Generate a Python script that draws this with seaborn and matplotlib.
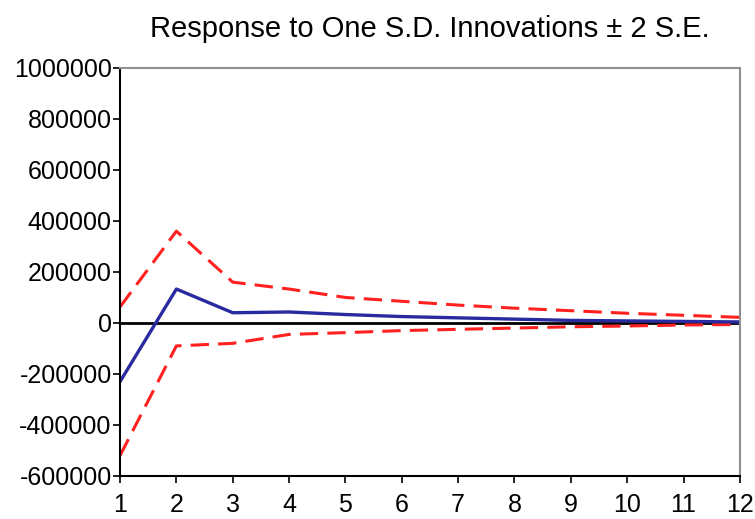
import matplotlib
matplotlib.use("Agg")
import matplotlib.pyplot as plt
from matplotlib.ticker import FuncFormatter
import pandas as pd
import seaborn as sns

periods = list(range(1, 13))
response = [-230000, 133000, 40000, 43000, 33000, 25000, 20000, 15000, 10000, 8000, 6000, 4000]
upper = [63000, 360000, 160000, 133000, 100000, 85000, 70000, 58000, 48000, 38000, 30000, 22000]
lower = [-520000, -90000, -80000, -45000, -38000, -30000, -25000, -20000, -15000, -12000, -8000, -6000]

df = pd.DataFrame({"period": periods, "response": response, "upper": upper, "lower": lower})

sns.set_theme(style="white")
plt.rcParams['font.family'] = ['Liberation Sans', 'DejaVu Sans']
plt.rcParams['text.color'] = 'black'
plt.rcParams['xtick.color'] = 'black'
plt.rcParams['ytick.color'] = 'black'

fig = plt.figure(figsize=(7.55, 5.19), dpi=100)
ax = fig.add_axes([0.159, 0.083, 0.821, 0.786])

ax.axhline(0, color="black", lw=2, zorder=1)
sns.lineplot(data=df, x="period", y="upper", ax=ax, color="#ff2020", lw=2.2)
sns.lineplot(data=df, x="period", y="lower", ax=ax, color="#ff2020", lw=2.2)
sns.lineplot(data=df, x="period", y="response", ax=ax, color="#2a2aa0", lw=2.4)
for line in ax.lines[1:3]:
    line.set_dashes([6, 3])

ax.set_xlim(1, 12)
ax.set_ylim(-600000, 1000000)
ax.set_xticks(periods)
ax.set_yticks(range(-600000, 1000001, 200000))
ax.yaxis.set_major_formatter(FuncFormatter(lambda v, p: f"{int(v)}"))
ax.set_xlabel("")
ax.set_ylabel("")
ax.tick_params(axis="both", direction="out", length=5, width=1.2, color="black",
               labelcolor="black", labelsize=18, pad=1, left=True, bottom=True)
ax.tick_params(axis="x", pad=7)
for s in ["left", "bottom"]:
    ax.spines[s].set_color("black")
    ax.spines[s].set_linewidth(1.5)
for s in ["top", "right"]:
    ax.spines[s].set_color("#909090")
    ax.spines[s].set_linewidth(1.5)

ax.set_title("Response to One S.D. Innovations \u00b1 2 S.E.", fontsize=21, pad=22, color="black")

fig.savefig("out.png", dpi=100)
